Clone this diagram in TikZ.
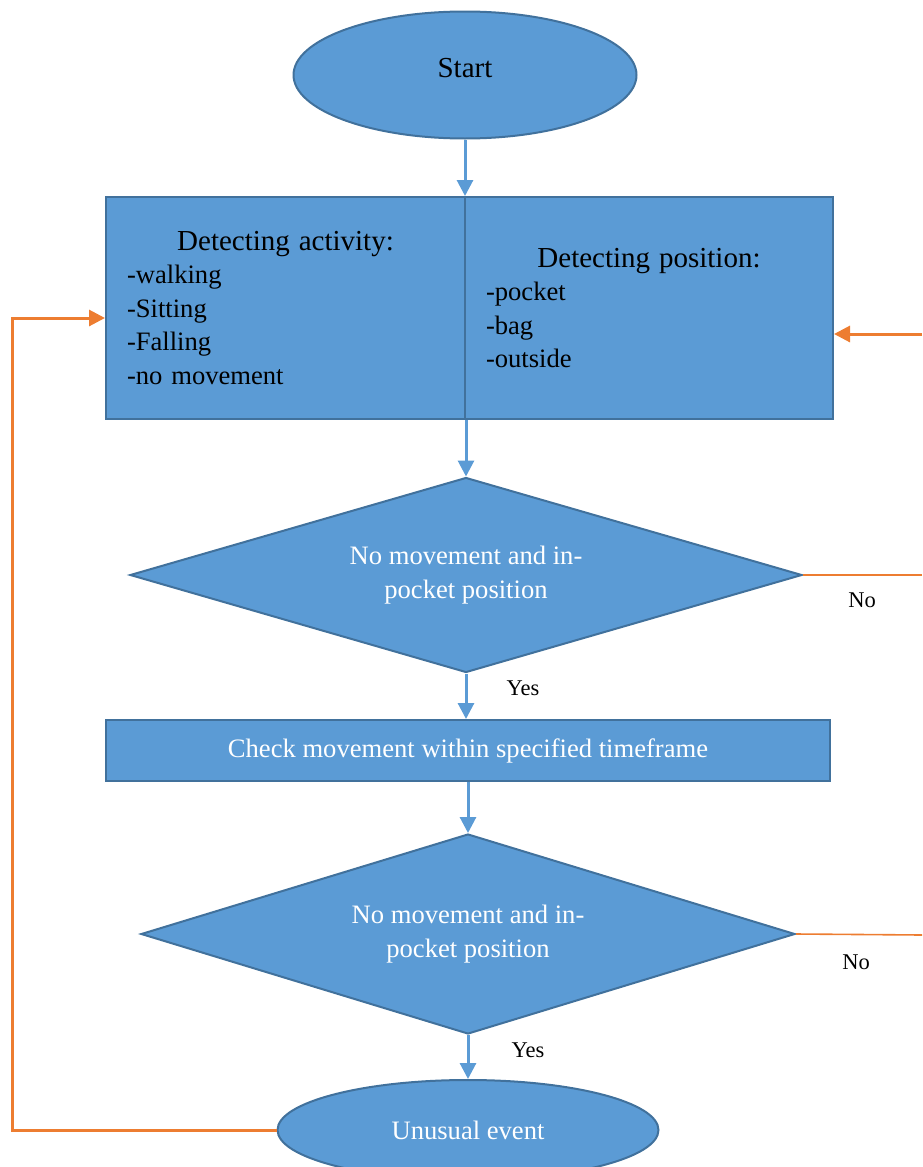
\documentclass[tikz,border=0pt]{standalone}
\usepackage{fontspec}
\setmainfont{Liberation Serif}
\usetikzlibrary{shapes.geometric,arrows.meta}

\definecolor{boxfill}{HTML}{5B9BD5}
\definecolor{boxline}{HTML}{41719C}
\definecolor{loopline}{HTML}{ED7D31}

\tikzset{
	blockbox/.style={draw=boxline, fill=boxfill, line width=2pt, inner sep=0pt},
	flow/.style={draw=boxfill, line width=3pt, -{Triangle[length=16pt,width=16pt]}},
	back/.style={draw=loopline, line width=3pt, -{Triangle[length=16pt,width=16pt]}},
	noline/.style={draw=loopline, line width=1.6pt},
	bigtext/.style={font=\fontsize{29}{33.5}\selectfont},
	midtext/.style={font=\fontsize{26.6}{33.5}\selectfont},
	smalltext/.style={font=\fontsize{22.5}{26}\selectfont}
}

\begin{document}
\begin{tikzpicture}[x=1pt,y=-1pt]
	\useasboundingbox (0,0) rectangle (922,1167);
	\clip (0,0) rectangle (922,1167);

	% Points
	\coordinate (rin) at (922,334);
	\coordinate (lin) at (12,318);
	\coordinate (out1) at (922,575);
	\coordinate (out2) at (922,935);

	% Blocks
	\node[blockbox, ellipse, minimum width=343pt, minimum height=127pt, bigtext] (start) at (465,75) {\raisebox{14pt}{Start}};
	\node[blockbox, rectangle, minimum width=359pt, minimum height=222pt, midtext, text width=317pt, align=left] (act) at (285.5,308)
		{\makebox[317pt]{\fontsize{29}{33.5}\selectfont Detecting activity:}\\-walking\\-Sitting\\-Falling\\-no movement};
	\node[blockbox, rectangle, minimum width=368pt, minimum height=222pt, midtext, text width=326pt, align=left] (posi) at (649,308)
		{\makebox[326pt]{\fontsize{29}{33.5}\selectfont Detecting position:}\\-pocket\\-bag\\-outside};
	\node[blockbox, diamond, aspect=3.45, minimum width=672pt, minimum height=195pt, midtext, text=white, align=center] (dec1) at (466,575)
		{No movement and in-\\pocket position};
	\node[blockbox, rectangle, minimum width=724pt, minimum height=61pt, midtext, text=white] (check) at (468,750.5)
		{Check movement within specified timeframe};
	\node[blockbox, diamond, aspect=3.27, minimum width=654pt, minimum height=200pt, midtext, text=white, align=center] (dec2) at (468,934)
		{No movement and in-\\pocket position};
	\node[blockbox, ellipse, minimum width=381pt, minimum height=100pt, midtext, text=white] (event) at (468,1130) {Unusual event};

	% Lines
	\draw[flow] (start.south) -- (start.south |- act.north);
	\draw[flow] (act.south east) -- (act.south east |- dec1.north);
	\draw[flow] (dec1.south) -- (dec1.south |- check.north);
	\draw[flow] (check.south) -- (dec2.north);
	\draw[flow] (dec2.south) -- (event.north);

	% Feedback
	\draw[noline] (dec1.east) -- (out1);
	\draw[noline] (dec2.east) -- (out2);
	\draw[back] (rin) -- (rin -| posi.east);
	\draw[back] (event.west) -| (lin) -- (lin -| act.west);

	% Answer tags
	\node[smalltext] (yes1) at (523,688) {Yes};
	\node[smalltext] (yes2) at (528,1050) {Yes};
	\node[smalltext] (no1) at (862,600) {No};
	\node[smalltext] (no2) at (856,962) {No};
\end{tikzpicture}
\end{document}
